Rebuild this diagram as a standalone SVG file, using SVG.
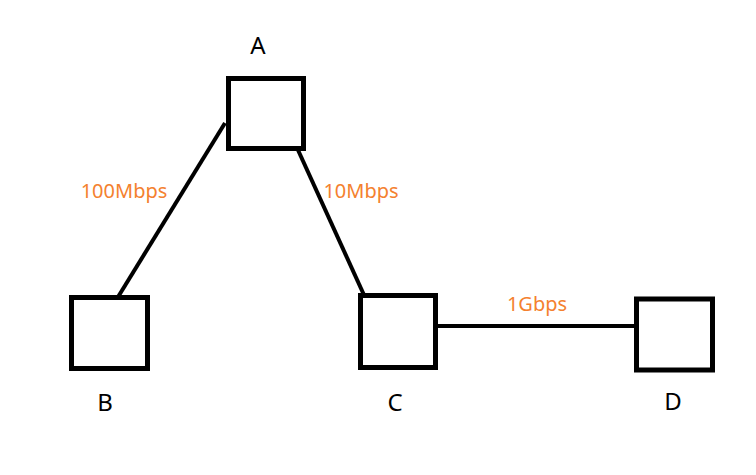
<svg xmlns="http://www.w3.org/2000/svg" width="756" height="475" viewBox="0 0 756 475">
<style>
.node{fill:#fff;stroke:#000;stroke-width:5}
.lbl{font-family:"Noto Sans",sans-serif;font-size:24px;fill:#000;text-anchor:middle}
.bw{font-family:"Noto Sans",sans-serif;font-size:20px;fill:#f4812f;text-anchor:middle}
.edge{stroke:#000;stroke-width:4;fill:none}
</style>
<rect width="756" height="475" fill="#fff"/>
<g id="connectors">
<line class="edge" x1="225" y1="123" x2="118" y2="297"/>
<line class="edge" x1="298" y1="150" x2="364" y2="295"/>
<line class="edge" x1="437" y1="326" x2="636" y2="326"/>
<text class="bw" x="124" y="198">100Mbps</text>
<text class="bw" x="361" y="198">10Mbps</text>
<text class="bw" x="537" y="311">1Gbps</text>
</g>
<g id="A"><rect class="node" x="228.5" y="78.5" width="75" height="70"/><text class="lbl" x="258" y="54">A</text></g>
<g id="B"><rect class="node" x="71.5" y="297.5" width="76" height="71"/><text class="lbl" x="105" y="411">B</text></g>
<g id="C"><rect class="node" x="360.5" y="295.5" width="75" height="72"/><text class="lbl" x="395" y="411">C</text></g>
<g id="D"><rect class="node" x="636.5" y="299" width="76" height="71"/><text class="lbl" x="673" y="410">D</text></g>
</svg>
